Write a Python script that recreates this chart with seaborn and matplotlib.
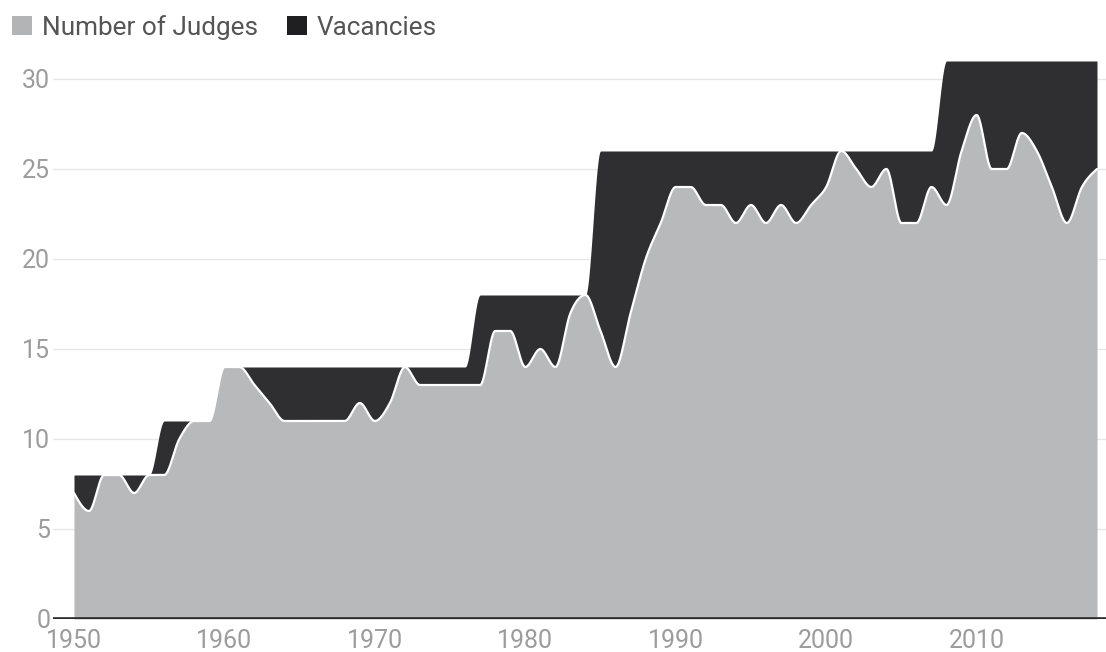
import numpy as np
import pandas as pd
import matplotlib
matplotlib.use("Agg")
import matplotlib.pyplot as plt
import seaborn as sns
from matplotlib.patches import Rectangle

# ---- data ----
years = list(range(1950, 2019))
judges = [7, 6, 8, 8, 7, 8, 8, 10, 11, 11,          # 1950-1959
          14, 14, 13, 12, 11, 11, 11, 11, 11, 12,   # 1960-1969
          11, 12, 14, 13, 13, 13, 13, 13, 16, 16,   # 1970-1979
          14, 15, 14, 17, 18, 16, 14, 17, 20, 22,   # 1980-1989
          24, 24, 23, 23, 22, 23, 22, 23, 22, 23,   # 1990-1999
          24, 26, 25, 24, 25, 22, 22, 24, 23, 26,   # 2000-2009
          28, 25, 25, 27, 26, 24, 22, 24, 25]       # 2010-2018
total_seats = [8, 8, 8, 8, 8, 8, 11, 11, 11, 11,
               14, 14, 14, 14, 14, 14, 14, 14, 14, 14,
               14, 14, 14, 14, 14, 14, 14, 18, 18, 18,
               18, 18, 18, 18, 18, 26, 26, 26, 26, 26,
               26, 26, 26, 26, 26, 26, 26, 26, 26, 26,
               26, 26, 26, 26, 26, 26, 26, 26, 31, 31,
               31, 31, 31, 31, 31, 31, 31, 31, 31]
vacancies = [t - j for t, j in zip(total_seats, judges)]
series_names = ["Number of Judges", "Vacancies"]
y_ticks = [0, 5, 10, 15, 20, 25, 30]
x_ticks = [1950, 1960, 1970, 1980, 1990, 2000, 2010]

df = pd.DataFrame({"year": years, "judges": judges, "vacancies": vacancies})
df["top"] = df["judges"] + df["vacancies"]


def monotone_curve(x, y, n=30):
    """d3 curveMonotoneX style rendering of a line through (x, y)."""
    x = np.asarray(x, float)
    y = np.asarray(y, float)
    h = np.diff(x)
    s = np.diff(y) / h
    t = np.zeros_like(y)
    for i in range(1, len(y) - 1):
        s0, s1, h0, h1 = s[i - 1], s[i], h[i - 1], h[i]
        p = (s0 * h1 + s1 * h0) / (h0 + h1)
        t[i] = (np.sign(s0) + np.sign(s1)) * min(abs(s0), abs(s1), 0.5 * abs(p))
    t[0] = (3 * s[0] - t[1]) / 2 if len(y) > 2 else s[0]
    t[-1] = (3 * s[-1] - t[-2]) / 2 if len(y) > 2 else s[-1]
    xs, ys = [], []
    for i in range(len(x) - 1):
        u = np.linspace(0, 1, n, endpoint=False)
        hh = h[i]
        h00 = 2 * u**3 - 3 * u**2 + 1
        h10 = u**3 - 2 * u**2 + u
        h01 = -2 * u**3 + 3 * u**2
        h11 = u**3 - u**2
        xs.append(x[i] + u * hh)
        ys.append(h00 * y[i] + h10 * hh * t[i] + h01 * y[i + 1] + h11 * hh * t[i + 1])
    xs.append([x[-1]])
    ys.append([y[-1]])
    return np.concatenate(xs), np.concatenate(ys)


sns.set_theme(style="white")
plt.rcParams["font.family"] = ["Roboto", "DejaVu Sans"]

W, H = 1106, 652
fig = plt.figure(figsize=(W / 100, H / 100), dpi=100)
ax_left, ax_right = 53, 1106
ax_bottom, ax_top = 619, 43
ax = fig.add_axes([ax_left / W, 1 - ax_bottom / H,
                   (ax_right - ax_left) / W, (ax_bottom - ax_top) / H])

gray = "#b8b9bb"
dark = "#2f2f31"

xj, yj = monotone_curve(df["year"], df["judges"])
xt, yt = monotone_curve(df["year"], df["top"])

ax.fill_between(xj, 0, yj, color=gray, lw=0, zorder=2)
ax.fill_between(xt, yj, yt, color=dark, lw=0, zorder=2)
sns.lineplot(x=xj, y=yj, ax=ax, color="white", lw=1.6, zorder=3,
             estimator=None, sort=False)

# grid
for v in y_ticks[1:]:
    ax.axhline(v, color="#e7e7e7", lw=1.0, zorder=1)
ax.axhline(0, color="#2a2a2a", lw=2.6, zorder=4)

x_per_year = (1097 - 74) / 68
ax.set_xlim(1950 - (74 - ax_left) / x_per_year, 2018 + (ax_right - 1097) / x_per_year)
ax.set_ylim(0, 32)
ax.set_xticks(x_ticks)
ax.set_yticks(y_ticks)
ax.tick_params(axis="both", length=0, labelsize=18, colors="#9c9c9c")
ax.tick_params(axis="x", pad=7)
ax.tick_params(axis="y", pad=2)
for sp in ax.spines.values():
    sp.set_visible(False)
ax.set_xlabel("")
ax.set_ylabel("")
ax.grid(False)

# legend
def px(x, y):
    return x / W, 1 - y / H

for (sx, label, col) in [(12, series_names[0], "#b3b4b6"), (287, series_names[1], "#1f1f21")]:
    x0, y0 = px(sx, 35)
    fig.patches.append(Rectangle((x0, y0), 20 / W, 19 / H, transform=fig.transFigure,
                                 facecolor=col, edgecolor="none"))
    tx, ty = px(sx + 30, 28)
    fig.text(tx, ty, label, fontsize=18.8, color="#555555", va="center", ha="left")

fig.savefig("out.png", dpi=100, facecolor="white")
